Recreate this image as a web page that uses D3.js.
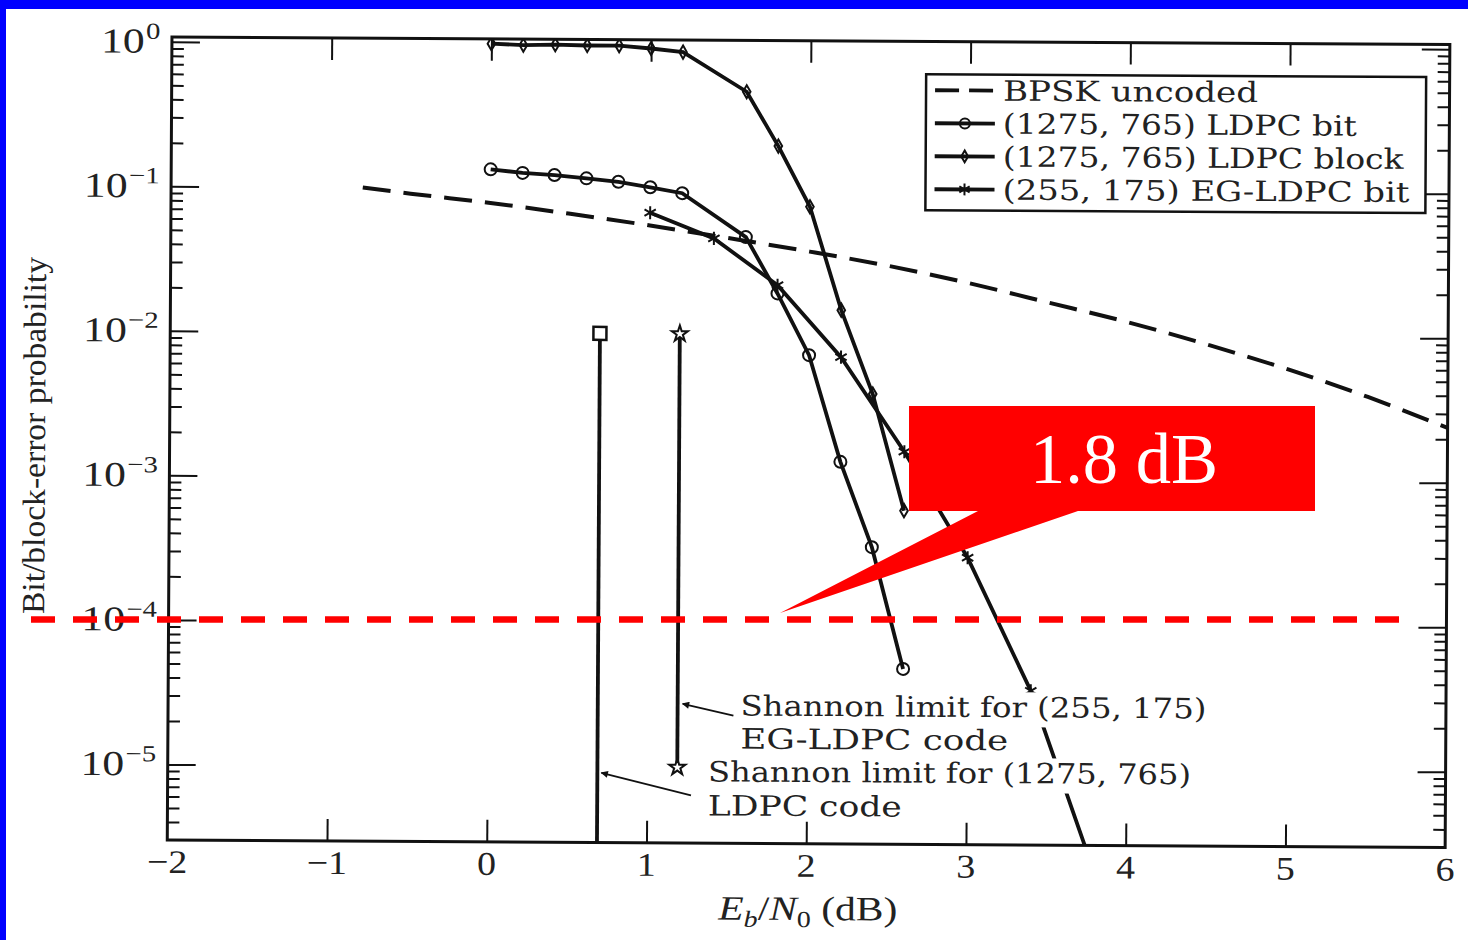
<!DOCTYPE html>
<html>
<head>
<meta charset="utf-8">
<script src="https://cdn.jsdelivr.net/npm/d3@7"></script>
<style>
  body { margin: 0; background: #fff; }
  svg { display: block; }
</style>
</head>
<body>
<div id="chart"></div>
<script>
// Eb/N0 (dB) positions and error probabilities
var bpskX = [-0.8, -0.5, 0, 0.5, 1, 1.5, 2, 2.5, 3, 3.5, 4, 4.5, 5, 5.5, 6];
var bpskP = [0.100, 0.091, 0.079, 0.067, 0.056, 0.046, 0.0375, 0.030, 0.023, 0.017, 0.0125, 0.0088, 0.0060, 0.0039, 0.0024];

var ldpcBitX = [0, 0.2, 0.4, 0.6, 0.8, 1.0, 1.2, 1.6, 1.8, 2.0, 2.2, 2.4, 2.6];
var ldpcBitP = [0.135, 0.128, 0.124, 0.118, 0.112, 0.103, 0.094, 0.047, 0.0192, 0.0072, 0.00132, 0.00034, 0.000049];

var ldpcBlockX = [0, 0.2, 0.4, 0.6, 0.8, 1.0, 1.2, 1.6, 1.8, 2.0, 2.2, 2.4, 2.6];
var ldpcBlockP = [1.0, 0.98, 0.99, 0.98, 0.98, 0.94, 0.89, 0.476, 0.201, 0.0766, 0.0148, 0.0039, 0.00061];

var egBitX = [1.0, 1.4, 1.8, 2.2, 2.6, 3.0, 3.4, 3.8];
var egBitP = [0.0687, 0.0459, 0.0219, 0.0070, 0.00156, 0.00029, 0.000035, 0.000002];

// Shannon limits: position, top and bottom of the marker line
var shannonX = [0.69, 1.19];
var shannonTop = [1e-2, 1e-2];
var shannonBottom = [3e-6, 1e-5];

var xTicks = [-2, -1, 0, 1, 2, 3, 4, 5, 6];
var xTickLabels = ["\u22122", "\u22121", "0", "1", "2", "3", "4", "5", "6"];
var yTicks = [1, 1e-1, 1e-2, 1e-3, 1e-4, 1e-5];
var yTickExp = ["0", "\u22121", "\u22122", "\u22123", "\u22124", "\u22125"];

var legendLabels = ["BPSK uncoded", "(1275, 765) LDPC bit", "(1275, 765) LDPC block", "(255, 175) EG-LDPC bit"];

var targetBER = 1e-4;
var gainLabel = "1.8 dB";

var svgWidth = 1468;
var svgHeight = 940;
var plot = { left: 169.6, right: 1447.5, top: 40.7, bottom: 843.7 };
var ink = "#111";
var serif = "'Liberation Serif', 'Times New Roman', serif";
var wideSerif = "'DejaVu Serif', serif";

var svg = d3.select("#chart").append("svg")
  .attr("width", svgWidth)
  .attr("height", svgHeight)
  .style("background", "#fff");

var x = d3.scaleLinear().domain([-2, 6]).range([plot.left, plot.right]);
var y = d3.scaleLog().domain([3e-6, 1.08]).range([plot.bottom, plot.top]);

// the scanned page is slightly tilted
var scan = svg.append("g").attr("transform", "rotate(0.335, 808, 444)");

scan.append("clipPath").attr("id", "plotClip")
  .append("rect")
  .attr("x", plot.left).attr("y", plot.top)
  .attr("width", plot.right - plot.left).attr("height", plot.bottom - plot.top);

// ticks on all four sides, pointing inward
var minorTicks = y.ticks().filter(function(d) {
  return yTicks.indexOf(d) < 0 && d < 1.08 && d > 3e-6;
});

function styleAxis(g) {
  g.select(".domain").remove();
  g.selectAll("text").remove();
  g.selectAll("line").attr("stroke", ink).attr("stroke-width", 2);
}

scan.append("g").attr("transform", "translate(" + plot.left + ",0)")
  .call(d3.axisLeft(y).tickValues(yTicks).tickSize(-28)).call(styleAxis);
scan.append("g").attr("transform", "translate(" + plot.left + ",0)")
  .call(d3.axisLeft(y).tickValues(minorTicks).tickSize(-12)).call(styleAxis);
scan.append("g").attr("transform", "translate(" + plot.right + ",0)")
  .call(d3.axisRight(y).tickValues(yTicks).tickSize(-28)).call(styleAxis);
scan.append("g").attr("transform", "translate(" + plot.right + ",0)")
  .call(d3.axisRight(y).tickValues(minorTicks).tickSize(-12)).call(styleAxis);
scan.append("g").attr("transform", "translate(0," + plot.bottom + ")")
  .call(d3.axisBottom(x).tickValues(xTicks.slice(1, -1)).tickSize(-22)).call(styleAxis);
scan.append("g").attr("transform", "translate(0," + plot.top + ")")
  .call(d3.axisTop(x).tickValues(xTicks.slice(1, -1)).tickSize(-22)).call(styleAxis);

scan.append("rect")
  .attr("x", plot.left).attr("y", plot.top)
  .attr("width", plot.right - plot.left).attr("height", plot.bottom - plot.top)
  .attr("fill", "none").attr("stroke", ink).attr("stroke-width", 3);

// tick labels (the scan's type is a little wider than Times)
var yLab = scan.append("g").attr("font-family", serif).attr("fill", "#222");
yTicks.forEach(function(t, i) {
  var txt = yLab.append("text")
    .attr("transform", "translate(158," + (y(t) + 11) + ") scale(1.25,1)")
    .attr("text-anchor", "end")
    .attr("font-size", 35);
  txt.append("tspan").text("10");
  txt.append("tspan").attr("dy", -14).attr("dx", 1).attr("font-size", 23).text(yTickExp[i]);
});

scan.append("g").attr("font-family", serif).attr("fill", "#222").attr("font-size", 33)
  .selectAll("text").data(xTicks).enter().append("text")
  .attr("transform", function(d) { return "translate(" + x(d) + "," + (plot.bottom + 33) + ") scale(1.15,1)"; })
  .attr("text-anchor", "middle")
  .text(function(d, i) { return xTickLabels[i]; });

// axis titles
scan.append("text")
  .attr("transform", "translate(45," + 440 + ") rotate(-90)")
  .attr("text-anchor", "middle")
  .attr("font-family", serif).attr("font-size", 32).attr("fill", "#222")
  .attr("textLength", 357).attr("lengthAdjust", "spacingAndGlyphs")
  .text("Bit/block-error probability");

var xt = scan.append("text")
  .attr("transform", "translate(" + (x(2) + 2) + ",920) scale(1.22,1)")
  .attr("text-anchor", "middle")
  .attr("font-family", serif).attr("font-size", 34).attr("fill", "#222");
xt.append("tspan").attr("font-style", "italic").text("E");
xt.append("tspan").attr("font-style", "italic").attr("font-size", 23).attr("dy", 7).text("b");
xt.append("tspan").attr("dy", -7).text("/");
xt.append("tspan").attr("font-style", "italic").text("N");
xt.append("tspan").attr("font-size", 23).attr("dy", 7).text("0");
xt.append("tspan").attr("dy", -7).text(" (dB)");

// curves
var plotArea = scan.append("g").attr("clip-path", "url(#plotClip)");

function series(xs, ps) {
  return xs.map(function(v, i) { return { x: v, p: ps[i] }; });
}

var line = d3.line().x(function(d) { return x(d.x); }).y(function(d) { return y(d.p); });
var smooth = d3.line().curve(d3.curveMonotoneX)
  .x(function(d) { return x(d.x); }).y(function(d) { return y(d.p); });

plotArea.append("path").datum(series(bpskX, bpskP))
  .attr("d", smooth).attr("fill", "none").attr("stroke", ink)
  .attr("stroke-width", 4).attr("stroke-dasharray", "28,13");

[[ldpcBitX, ldpcBitP], [ldpcBlockX, ldpcBlockP], [egBitX, egBitP]].forEach(function(s) {
  plotArea.append("path").datum(series(s[0], s[1]))
    .attr("d", line).attr("fill", "none").attr("stroke", ink).attr("stroke-width", 3.8);
});

function inRange(d) { return d.p > 3e-6; }

plotArea.selectAll("circle.bit").data(series(ldpcBitX, ldpcBitP).filter(inRange))
  .enter().append("circle").attr("class", "bit")
  .attr("cx", function(d) { return x(d.x); })
  .attr("cy", function(d) { return y(d.p); })
  .attr("r", 6).attr("fill", "none").attr("stroke", ink).attr("stroke-width", 2);

plotArea.selectAll("path.block").data(series(ldpcBlockX, ldpcBlockP).filter(inRange))
  .enter().append("path").attr("class", "block")
  .attr("transform", function(d) { return "translate(" + x(d.x) + "," + y(d.p) + ")"; })
  .attr("d", d3.symbol().type(d3.symbolDiamond).size(50))
  .attr("fill", "none").attr("stroke", ink).attr("stroke-width", 2);

plotArea.selectAll("path.eg").data(series(egBitX, egBitP).filter(inRange))
  .enter().append("path").attr("class", "eg")
  .attr("transform", function(d) { return "translate(" + x(d.x) + "," + y(d.p) + ")"; })
  .attr("d", d3.symbol().type(d3.symbolAsterisk).size(120))
  .attr("fill", "none").attr("stroke", ink).attr("stroke-width", 2);

// Shannon limit lines
shannonX.forEach(function(v, i) {
  plotArea.append("line")
    .attr("x1", x(v)).attr("x2", x(v))
    .attr("y1", y(shannonTop[i])).attr("y2", y(shannonBottom[i]))
    .attr("stroke", ink).attr("stroke-width", 3.8);
});
plotArea.append("rect")
  .attr("x", x(shannonX[0]) - 6.5).attr("y", y(shannonTop[0]) - 6.5)
  .attr("width", 13).attr("height", 13)
  .attr("fill", "#fff").attr("stroke", ink).attr("stroke-width", 2.5);
[shannonTop[1], shannonBottom[1]].forEach(function(p) {
  plotArea.append("path")
    .attr("transform", "translate(" + x(shannonX[1]) + "," + y(p) + ")")
    .attr("d", d3.symbol().type(d3.symbolStar).size(80))
    .attr("fill", "#fff").attr("stroke", ink).attr("stroke-width", 2);
});

// Shannon limit annotations
var notes = [
  { x: 742, y: 716, text: "Shannon limit for (255, 175)", w: 466, knock: true },
  { x: 742, y: 749, text: "EG-LDPC code", w: 268, knock: false },
  { x: 710, y: 782, text: "Shannon limit for (1275, 765)", w: 483, knock: true },
  { x: 710, y: 816, text: "LDPC code", w: 194, knock: false }
];
var noteG = scan.append("g");
notes.forEach(function(n) {
  var bg = noteG.append("rect").attr("fill", "#fff");
  var t = noteG.append("text")
    .attr("x", n.x).attr("y", n.y)
    .attr("font-family", wideSerif).attr("font-size", 28).attr("fill", "#222")
    .attr("textLength", n.w).attr("lengthAdjust", "spacingAndGlyphs")
    .text(n.text);
  if (n.knock) {
    var b = t.node().getBBox();
    bg.attr("x", b.x - 2).attr("y", b.y + 1).attr("width", b.width + 4).attr("height", b.height + 2);
  }
});

scan.append("defs").append("marker")
  .attr("id", "arrowHead").attr("viewBox", "0 0 10 10")
  .attr("refX", 9).attr("refY", 5)
  .attr("markerWidth", 5).attr("markerHeight", 4).attr("orient", "auto")
  .append("path").attr("d", "M0,0L10,5L0,10Z").attr("fill", ink);

[[735, 716, x(shannonX[1]) + 5, 704.5], [693, 796, x(shannonX[0]) + 4, 774]].forEach(function(a) {
  scan.append("line")
    .attr("x1", a[0]).attr("y1", a[1]).attr("x2", a[2]).attr("y2", a[3])
    .attr("stroke", ink).attr("stroke-width", 1.8)
    .attr("marker-end", "url(#arrowHead)");
});

// legend
var legend = scan.append("g").attr("transform", "translate(924,73.5)");
legend.append("rect")
  .attr("width", 500).attr("height", 136)
  .attr("fill", "#fff").attr("stroke", ink).attr("stroke-width", 2.5);

legendLabels.forEach(function(label, i) {
  var cy = 16 + i * 33;
  var row = legend.append("g").attr("transform", "translate(0," + cy + ")");
  row.append("line")
    .attr("x1", 9).attr("x2", 69)
    .attr("stroke", ink).attr("stroke-width", 3.8)
    .attr("stroke-dasharray", i === 0 ? "24,10" : null);
  if (i === 1) {
    row.append("circle").attr("cx", 39).attr("r", 5)
      .attr("fill", "none").attr("stroke", ink).attr("stroke-width", 2);
  } else if (i === 2) {
    row.append("path").attr("transform", "translate(39,0)")
      .attr("d", d3.symbol().type(d3.symbolDiamond).size(40))
      .attr("fill", "none").attr("stroke", ink).attr("stroke-width", 2);
  } else if (i === 3) {
    row.append("path").attr("transform", "translate(39,0)")
      .attr("d", d3.symbol().type(d3.symbolAsterisk).size(100))
      .attr("fill", "none").attr("stroke", ink).attr("stroke-width", 2);
  }
  row.append("text")
    .attr("x", 77).attr("y", 10)
    .attr("font-family", wideSerif).attr("font-size", 28).attr("fill", "#222")
    .attr("textLength", [255, 354, 401, 407][i]).attr("lengthAdjust", "spacingAndGlyphs")
    .text(label);
});

// slide overlay: blue frame, target BER line and gain callout
svg.append("rect").attr("x", 0).attr("y", 0).attr("width", svgWidth).attr("height", 9).attr("fill", "#0000ff");
svg.append("rect").attr("x", 0).attr("y", 0).attr("width", 6).attr("height", svgHeight).attr("fill", "#0000ff");

svg.append("line")
  .attr("x1", 31).attr("x2", 1399)
  .attr("y1", y(targetBER) - 4).attr("y2", y(targetBER) - 4)
  .attr("stroke", "#ff0000").attr("stroke-width", 6.5)
  .attr("stroke-dasharray", "24,18");

var callout = { x: 909, y: 406, w: 406, h: 105, tipX: 780, tipY: 613, baseL: 978, baseR: 1078 };
svg.append("path")
  .attr("d", "M" + callout.x + "," + callout.y +
    "H" + (callout.x + callout.w) + "V" + (callout.y + callout.h) +
    "H" + callout.baseR + "L" + callout.tipX + "," + callout.tipY +
    "L" + callout.baseL + "," + (callout.y + callout.h) +
    "H" + callout.x + "Z")
  .attr("fill", "#ff0000");
svg.append("text")
  .attr("x", 1124).attr("y", 483)
  .attr("text-anchor", "middle")
  .attr("font-family", serif).attr("font-size", 72).attr("fill", "#fff")
  .attr("textLength", 188).attr("lengthAdjust", "spacingAndGlyphs")
  .text(gainLabel);
</script>
</body>
</html>
